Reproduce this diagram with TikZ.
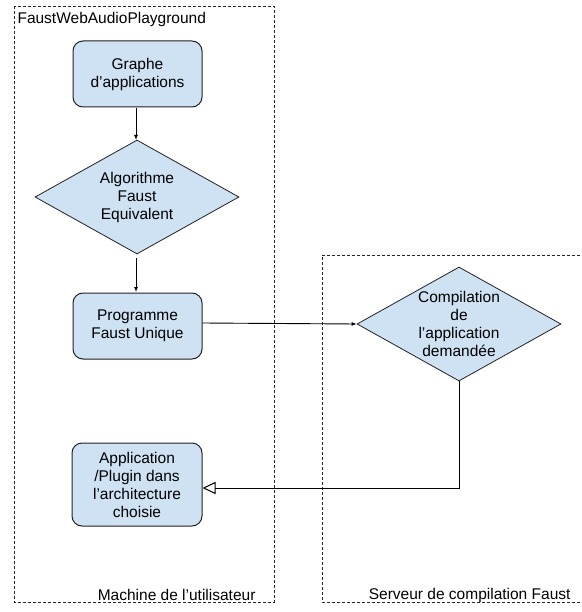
\documentclass[tikz,border=0pt]{standalone}
\usepackage{fontspec}
\setmainfont{Liberation Sans}
\usetikzlibrary{arrows.meta,shapes.geometric}
\definecolor{boxfill}{HTML}{CFE2F3}
\definecolor{boxline}{HTML}{222222}
\begin{document}
\begin{tikzpicture}[x=1pt,y=-1pt,
  txt/.style={font=\fontsize{15.5}{18}\selectfont},
  procbox/.style={draw=boxline, line width=1pt, fill=boxfill, rounded corners=10pt,
    minimum width=129pt, align=center, txt, inner sep=0pt},
  decision/.style={draw=boxline, line width=0.8pt, fill=boxfill, diamond, aspect=1.79,
    align=center, txt, inner sep=0pt},
  zone/.style={draw=black!85, line width=0.8pt, dash pattern=on 3pt off 2pt},
  flow/.style={draw=black, line width=0.9pt, -{Latex[length=5pt,width=4pt]}},
  ret/.style={draw=black, line width=1pt, -{Triangle[open, length=13pt, width=12pt, fill=white, line width=1pt]}}
]
\useasboundingbox (0,0) rectangle (581,612);
% zones
\draw[zone] (14,6) rectangle (274,602);
\draw[zone] (590,255) -- (322,255) -- (322,602) -- (590,602);
\node[txt, anchor=west] (zoneA) at (14,19) {FaustWebAudioPlayground};
\node[txt, anchor=east] (zoneAlbl) at (259,595) {Machine de l’utilisateur};
\node[txt, anchor=east] (zoneBlbl) at (574,595) {Serveur de compilation Faust};
% nodes
\node[procbox, minimum height=66pt] (graphe) at (137.5,74) {Graphe\\d’applications};
\node[decision, minimum width=204pt, minimum height=114pt] (algo) at (137,197) {Algorithme\\Faust\\Equivalent};
\node[procbox, minimum height=66pt] (prog) at (137.5,326) {Programme\\Faust Unique};
\node[decision, minimum width=204pt, minimum height=114pt] (compil) at (459,324) {Compilation\\de\\l’application\\demandée};
\node[procbox, minimum width=130pt, minimum height=83pt] (appli) at (137,484.5) {Application\\/Plugin dans\\l’architecture\\choisie};
% connectors
\coordinate (a1) at (136,108);
\coordinate (a2) at (136,258);
\draw[flow] (a1) -- (136,140);
\draw[flow] (a2) -- (136,292);
\draw[flow] (prog.east |- 0,323) -- (compil.west);
\coordinate (corner) at (459,488);
\draw[ret] (compil.south) -- (corner) -- (appli.east |- corner);
\end{tikzpicture}
\end{document}
